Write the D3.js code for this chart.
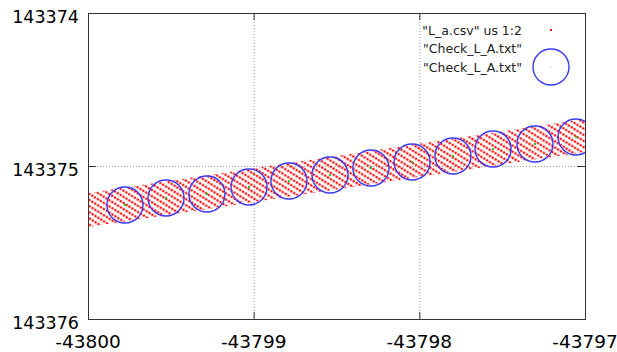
<!DOCTYPE html>
<html>
<head>
<meta charset="utf-8">
<script src="https://cdn.jsdelivr.net/npm/d3@7"></script>
<style>
  body { margin: 0; background: #fff; }
  svg { display: block; }
</style>
</head>
<body>
<svg id="chart" width="617" height="352"></svg>
<script>
// axis ticks
const xTicks = [-43800, -43799, -43798, -43797]
const yTicks = [143374, 143375, 143376]

// "L_a.csv" us 1:2 -- band of red points, edges read at the two ends
const bandX = [-43800, -43797]
const bandTop = [143375.176, 143374.693]
const bandBottom = [143375.399, 143374.908]

// "Check_L_A.txt" centres
const checkX = [-43799.777, -43799.529, -43799.282, -43799.028, -43798.787, -43798.539,
  -43798.292, -43798.044, -43797.797, -43797.555, -43797.302, -43797.054]
const checkY = [143375.255, 143375.209, 143375.183, 143375.137, 143375.098, 143375.059,
  143375.013, 143374.974, 143374.935, 143374.889, 143374.856, 143374.810]

const legendLabels = ['"L_a.csv" us 1:2', '"Check_L_A.txt"', '"Check_L_A.txt"']

const width = 617, height = 352
const margin = { left: 88, right: 32, top: 13, bottom: 33 }
const font = 'DejaVu Sans, Verdana, sans-serif'

const svg = d3.select('#chart')

const x = d3.scaleLinear()
  .domain([xTicks[0], xTicks[xTicks.length - 1]])
  .range([margin.left, width - margin.right])

const y = d3.scaleLinear()
  .domain([yTicks[0], yTicks[yTicks.length - 1]])
  .range([margin.top, height - margin.bottom])

const defs = svg.append('defs')

defs.append('clipPath')
  .attr('id', 'plotClip')
  .append('rect')
  .attr('x', x.range()[0])
  .attr('y', y.range()[0])
  .attr('width', x.range()[1] - x.range()[0])
  .attr('height', y.range()[1] - y.range()[0])

// diagonal rows of dots, like the scanned csv points
const pat = defs.append('pattern')
  .attr('id', 'dots')
  .attr('patternUnits', 'userSpaceOnUse')
  .attr('width', 3.4)
  .attr('height', 5.2)
  .attr('patternTransform', 'rotate(32)')
pat.append('circle')
  .attr('cx', 1.7)
  .attr('cy', 2.6)
  .attr('r', 1.3)
  .attr('fill', '#ff1010')

// grid
const grid = svg.append('g')
  .attr('stroke', '#999')
  .attr('stroke-width', 1)
  .attr('stroke-dasharray', '1,2')
grid.selectAll('line.gx')
  .data(xTicks.slice(1, -1))
  .enter()
  .append('line')
  .attr('x1', d => x(d) + 0.5)
  .attr('x2', d => x(d) + 0.5)
  .attr('y1', y.range()[0])
  .attr('y2', y.range()[1])
grid.selectAll('line.gy')
  .data(yTicks.slice(1, -1))
  .enter()
  .append('line')
  .attr('x1', x.range()[0])
  .attr('x2', x.range()[1])
  .attr('y1', d => y(d) + 0.5)
  .attr('y2', d => y(d) + 0.5)

const plot = svg.append('g').attr('clip-path', 'url(#plotClip)')

const band = d3.area()
  .x(d => x(d.x))
  .y0(d => y(d.top))
  .y1(d => y(d.bottom))

plot.append('path')
  .datum(bandX.map((v, i) => ({ x: v, top: bandTop[i], bottom: bandBottom[i] })))
  .attr('d', band)
  .attr('fill', 'url(#dots)')

const checks = checkX.map((v, i) => ({ x: v, y: checkY[i] }))

plot.selectAll('circle.check')
  .data(checks)
  .enter()
  .append('circle')
  .attr('class', 'check')
  .attr('cx', d => x(d.x))
  .attr('cy', d => y(d.y))
  .attr('r', 18)
  .attr('fill', 'none')
  .attr('stroke', '#3a3af0')
  .attr('stroke-width', 1.4)

plot.selectAll('rect.pt')
  .data(checks)
  .enter()
  .append('rect')
  .attr('class', 'pt')
  .attr('x', d => x(d.x) - 1)
  .attr('y', d => y(d.y) - 1)
  .attr('width', 2)
  .attr('height', 2)
  .attr('fill', '#22cc22')

// frame
svg.append('rect')
  .attr('x', x.range()[0] + 0.5)
  .attr('y', y.range()[0] + 0.5)
  .attr('width', x.range()[1] - x.range()[0])
  .attr('height', y.range()[1] - y.range()[0])
  .attr('fill', 'none')
  .attr('stroke', '#333')
  .attr('stroke-width', 1)

// inward ticks on all four sides
const ticks = svg.append('g').attr('stroke', '#333').attr('stroke-width', 1)
xTicks.slice(1, -1).forEach(t => {
  ticks.append('line').attr('x1', x(t) + 0.5).attr('x2', x(t) + 0.5)
    .attr('y1', y.range()[0]).attr('y2', y.range()[0] + 7)
  ticks.append('line').attr('x1', x(t) + 0.5).attr('x2', x(t) + 0.5)
    .attr('y1', y.range()[1]).attr('y2', y.range()[1] - 7)
})
yTicks.slice(1, -1).forEach(t => {
  ticks.append('line').attr('y1', y(t) + 0.5).attr('y2', y(t) + 0.5)
    .attr('x1', x.range()[0]).attr('x2', x.range()[0] + 8)
  ticks.append('line').attr('y1', y(t) + 0.5).attr('y2', y(t) + 0.5)
    .attr('x1', x.range()[1]).attr('x2', x.range()[1] - 8)
})

// tick labels
svg.selectAll('text.ylab')
  .data(yTicks)
  .enter()
  .append('text')
  .attr('x', x.range()[0] - 9)
  .attr('y', d => y(d) + 4)
  .attr('dy', '0.36em')
  .attr('text-anchor', 'end')
  .attr('font-family', font)
  .attr('font-size', 17.5)
  .attr('fill', '#000')
  .text(d => d)

svg.selectAll('text.xlab')
  .data(xTicks)
  .enter()
  .append('text')
  .attr('x', d => x(d))
  .attr('y', y.range()[1] + 22)
  .attr('dy', '0.36em')
  .attr('text-anchor', 'middle')
  .attr('font-family', font)
  .attr('font-size', 18.5)
  .attr('fill', '#000')
  .text(d => d)

// legend
const legend = svg.append('g')
const lx = 522, sx = 551
const ly = d3.scaleLinear().domain([0, 1]).range([30, 48.5])

legend.selectAll('text')
  .data(legendLabels)
  .enter()
  .append('text')
  .attr('x', lx)
  .attr('y', (d, i) => ly(i))
  .attr('dy', '0.36em')
  .attr('text-anchor', 'end')
  .attr('font-family', font)
  .attr('font-size', 12.5)
  .attr('fill', '#222')
  .text(d => d)

legend.append('rect')
  .attr('x', sx - 1).attr('y', ly(0) - 1)
  .attr('width', 2).attr('height', 2)
  .attr('fill', '#ff1010')
legend.append('circle')
  .attr('cx', sx).attr('cy', ly(2))
  .attr('r', 18)
  .attr('fill', 'none')
  .attr('stroke', '#3a3af0')
  .attr('stroke-width', 1.4)
legend.append('rect')
  .attr('x', sx - 0.5).attr('y', ly(2) - 0.5)
  .attr('width', 1).attr('height', 1)
  .attr('fill', '#aaa')
</script>
</body>
</html>
